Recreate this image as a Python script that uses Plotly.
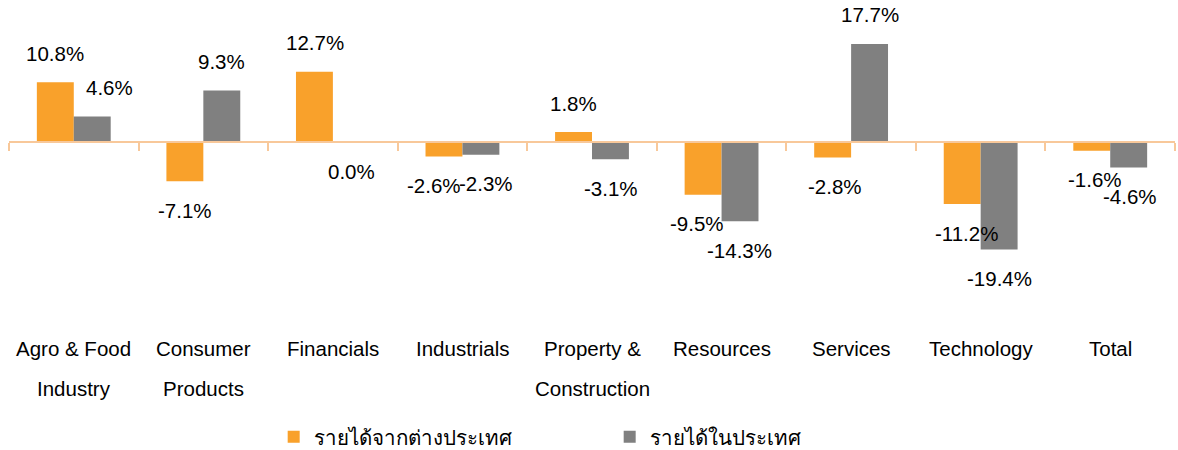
import plotly.graph_objects as go

categories = ["Agro & Food Industry", "Consumer Products", "Financials", "Industrials",
              "Property & Construction", "Resources", "Services", "Technology", "Total"]
label_line1 = ["Agro & Food", "Consumer", "Financials", "Industrials", "Property &",
               "Resources", "Services", "Technology", "Total"]
label_line2 = ["Industry", "Products", "", "", "Construction", "", "", "", ""]
foreign = [10.8, -7.1, 12.7, -2.6, 1.8, -9.5, -2.8, -11.2, -1.6]
domestic = [4.6, 9.3, 0.0, -2.3, -3.1, -14.3, 17.7, -19.4, -4.6]
series_names = ["รายได้จากต่างประเทศ", "รายได้ในประเทศ"]

# style: small horizontal nudges of data labels (pixels)
foreign_dx = [0, 0, 1, -10, 0, -6, 2, 4, 3]
domestic_dx = [17, 0, 0, 5, 0, -1, 0, 0, 1]

ORANGE = "#F9A12B"
GRAY = "#808080"
AXIS = "#F8C89A"
FONT = "Liberation Sans, Arial, sans-serif"
FS = 20.5

ymin, ymax = -28.52, 24.73

fig = go.Figure()
fig.add_trace(go.Bar(x=categories, y=foreign, name=series_names[0], marker_color=ORANGE,
                     marker_line_width=0))
fig.add_trace(go.Bar(x=categories, y=domestic, name=series_names[1], marker_color=GRAY,
                     marker_line_width=0))

ann = []
for vals, side, dxs in ((foreign, -1, foreign_dx), (domestic, 1, domestic_dx)):
    for c, v, dx in zip(categories, vals, dxs):
        ann.append(dict(x=c, y=v, xref="x", yref="y", text=f"{v:.1f}%", showarrow=False,
                        xshift=side * 18.5 + dx, yshift=29 if v > 0 else -29,
                        yanchor="middle", xanchor="center",
                        font=dict(family=FONT, size=FS, color="#000000")))
for c, l1, l2 in zip(categories, label_line1, label_line2):
    ann.append(dict(x=c, y=0, xref="x", yref="paper", text=l1, showarrow=False,
                    yshift=-48, yanchor="middle", font=dict(family=FONT, size=FS, color="#000000")))
    if l2:
        ann.append(dict(x=c, y=0, xref="x", yref="paper", text=l2, showarrow=False,
                        yshift=-88, yanchor="middle", font=dict(family=FONT, size=FS, color="#000000")))

fig.update_layout(
    width=1178, height=450,
    margin=dict(l=9, r=3, t=5, b=150, autoexpand=False),
    paper_bgcolor="white", plot_bgcolor="white",
    barmode="group", bargap=0.43, bargroupgap=0,
    font=dict(family=FONT, size=FS, color="#000000"),
    xaxis=dict(type="category", anchor="free", position=(0 - ymin) / (ymax - ymin),
               showline=True, linecolor=AXIS, linewidth=2,
               ticks="outside", tickson="boundaries", ticklen=8, tickcolor=AXIS, tickwidth=2,
               showticklabels=False, showgrid=False, automargin=False),
    yaxis=dict(range=[ymin, ymax], visible=False, showgrid=False, zeroline=False,
               automargin=False),
    legend=dict(orientation="h", x=0.227, xanchor="left", y=-0.464, yanchor="middle",
                entrywidth=291, entrywidthmode="pixels",
                font=dict(family=FONT, size=FS, color="#000000")),
    annotations=ann,
)

fig.write_html("out.html", config={"displayModeBar": False},
               post_script="document.body.style.margin='0px';document.body.style.overflow='hidden';")
